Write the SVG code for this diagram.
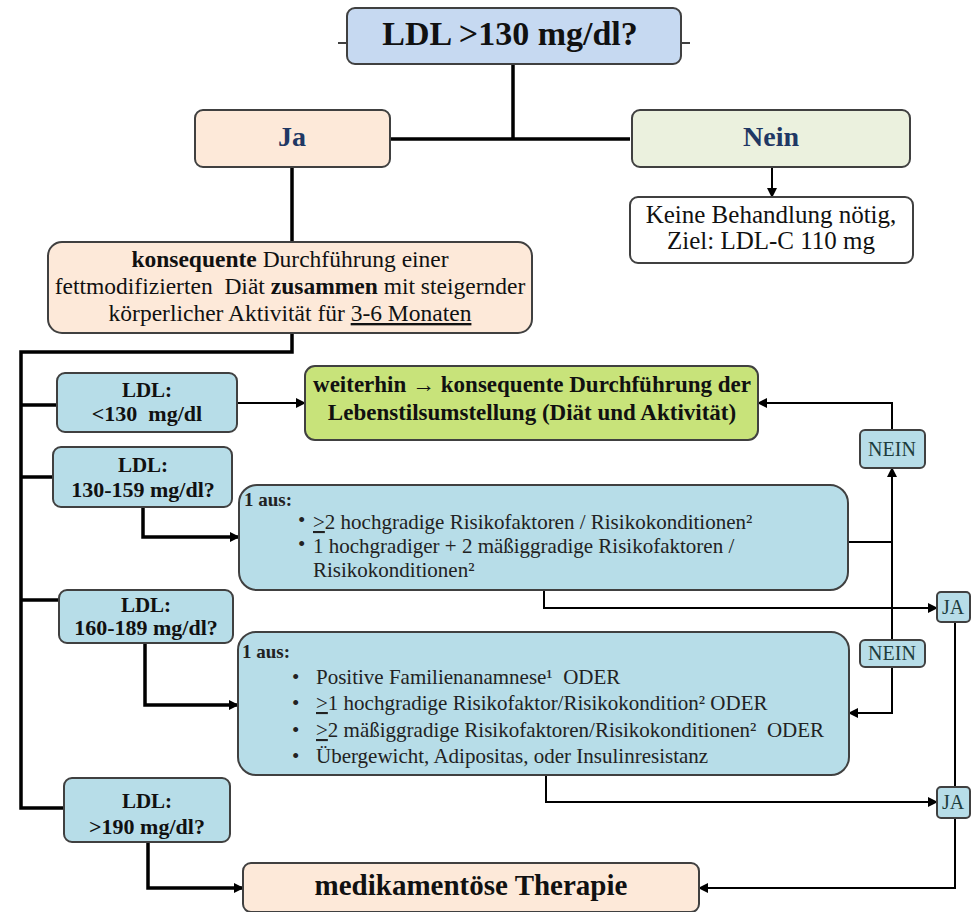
<svg xmlns="http://www.w3.org/2000/svg" width="972" height="912" viewBox="0 0 972 912">
<defs>
<marker id="ah" viewBox="0 0 10 10" refX="9" refY="5" markerWidth="11" markerHeight="10" markerUnits="userSpaceOnUse" orient="auto"><path d="M0,0 L10,5 L0,10 z" fill="#000"/></marker>
</defs>
<style>
text{font-family:"Liberation Serif","Times New Roman",serif;fill:#111}
.b{font-weight:bold}
.box{stroke:#404040;stroke-width:2}
.blue{fill:#c6d9f1}
.peach{fill:#fde9d9}
.lgreen{fill:#ebf1de}
.teal{fill:#b7dde8}
.lime{fill:#c8e37a}
.white{fill:#fff}
.thick{fill:none;stroke:#000;stroke-width:3.5}
.thin{fill:none;stroke:#000;stroke-width:2}
.ldl{font-size:21px;font-weight:bold;text-anchor:middle}
.ldl2{font-size:22px;font-weight:bold;text-anchor:middle}
.risk{font-size:21px;fill:#222}
.aus{font-size:19px;font-weight:bold;fill:#222}
.lbl{font-size:20px;text-anchor:middle;fill:#1d3c3c}
</style>
<rect width="972" height="912" fill="#fff"/>
<g id="connectors">
<line x1="338" y1="43" x2="347" y2="43" stroke="#000" stroke-width="1.5"/>
<line x1="681" y1="43" x2="690" y2="43" stroke="#000" stroke-width="1.5"/>
<path class="thick" d="M513 64 L513 139 M390 139 L630 139"/>
<path class="thin" d="M772 167 L772 197" marker-end="url(#ah)"/>
<path class="thick" d="M292 167 L292 242 M292 333 L292 352 L21 352 L21 808 L64 808 M21 405 L57 405 M21 477 L53 477 M21 600 L59 600"/>
<path class="thin" d="M237 403 L305 403" marker-end="url(#ah)"/>
<path class="thick" d="M143 507 L143 537 L239 537" marker-end="url(#ah)"/>
<path class="thick" d="M145 643 L145 705 L238 705" marker-end="url(#ah)"/>
<path class="thick" d="M148 842 L148 888 L243 888" marker-end="url(#ah)"/>
<path class="thin" d="M892 430 L892 403 L758 403" marker-end="url(#ah)"/>
<path class="thin" d="M892 640 L892 468" marker-end="url(#ah)"/>
<path class="thin" d="M848 542 L892 542"/>
<path class="thin" d="M892 667 L892 713 L849 713" marker-end="url(#ah)"/>
<path class="thin" d="M544 590 L544 608 L937 608" marker-end="url(#ah)"/>
<path class="thin" d="M546 775 L546 802 L937 802" marker-end="url(#ah)"/>
<path class="thin" d="M955 622 L955 787 M955 818 L955 888 L699 888" marker-end="url(#ah)"/>
</g>
<g id="top">
<rect class="box blue" x="347" y="8" width="334" height="56" rx="8"/>
<text class="b" x="510" y="45" font-size="34" text-anchor="middle">LDL &gt;130 mg/dl?</text>
</g>
<g id="ja">
<rect class="box peach" x="195" y="110" width="195" height="57" rx="8"/>
<text class="b" x="292" y="146" font-size="28" text-anchor="middle" style="fill:#1f3864">Ja</text>
</g>
<g id="nein">
<rect class="box lgreen" x="632" y="110" width="278" height="57" rx="8"/>
<text class="b" x="771" y="146" font-size="28" text-anchor="middle" style="fill:#1f3864">Nein</text>
</g>
<g id="keine">
<rect class="box white" x="630" y="197" width="283" height="66" rx="8"/>
<text x="771" y="223" font-size="25" text-anchor="middle">Keine Behandlung nötig,</text>
<text x="771" y="249" font-size="25" text-anchor="middle">Ziel: LDL-C 110 mg</text>
</g>
<g id="konsequent">
<rect class="box peach" x="48" y="242" width="484" height="91" rx="14"/>
<text x="290" y="267" font-size="23.5" text-anchor="middle"><tspan class="b">konsequente</tspan> Durchführung einer</text>
<text x="290" y="294" font-size="23.5" text-anchor="middle">fettmodifizierten&#160; Diät <tspan class="b">zusammen</tspan> mit steigernder</text>
<text x="290" y="321" font-size="23.5" text-anchor="middle">körperlicher Aktivität für <tspan text-decoration="underline">3-6 Monaten</tspan></text>
</g>
<g id="ldl1">
<rect class="box teal" x="57" y="373" width="180" height="59" rx="8"/>
<text class="ldl" x="147" y="397">LDL:</text>
<text class="ldl2" x="147" y="421">&lt;130&#160; mg/dl</text>
</g>
<g id="lifestyle">
<rect class="box lime" x="305" y="366" width="453" height="74" rx="10"/>
<text class="b" x="532" y="392" font-size="23" text-anchor="middle">weiterhin → konsequente Durchführung der</text>
<text class="b" x="532" y="420" font-size="23" text-anchor="middle">Lebenstilsumstellung (Diät und Aktivität)</text>
</g>
<g id="ldl2">
<rect class="box teal" x="53" y="447" width="179" height="60" rx="8"/>
<text class="ldl" x="143" y="472">LDL:</text>
<text class="ldl2" x="143" y="497">130-159 mg/dl?</text>
</g>
<g id="risk1">
<rect class="box teal" x="239" y="485" width="609" height="105" rx="18"/>
<text class="aus" x="244" y="506">1 aus:</text>
<text class="risk" x="298" y="527" font-size="15">•</text>
<text class="risk" x="313" y="529"><tspan text-decoration="underline">&gt;</tspan>2 hochgradige Risikofaktoren / Risikokonditionen²</text>
<text class="risk" x="298" y="551" font-size="15">•</text>
<text class="risk" x="313" y="553">1 hochgradiger + 2 mäßiggradige Risikofaktoren /</text>
<text class="risk" x="313" y="577">Risikokonditionen²</text>
</g>
<g id="nein1">
<rect class="box teal" x="860" y="430" width="65" height="38" rx="5"/>
<text class="lbl" x="892" y="456">NEIN</text>
</g>
<g id="ja1">
<rect class="box teal" x="937" y="592" width="33" height="30" rx="4"/>
<text class="lbl" x="953" y="614">JA</text>
</g>
<g id="ldl3">
<rect class="box teal" x="59" y="590" width="174" height="53" rx="8"/>
<text class="ldl" x="146" y="612">LDL:</text>
<text class="ldl2" x="146" y="635">160-189 mg/dl?</text>
</g>
<g id="risk2">
<rect class="box teal" x="238" y="632" width="611" height="143" rx="18"/>
<text class="aus" x="242" y="658">1 aus:</text>
<text class="risk" x="292" y="684">•</text>
<text class="risk" x="316" y="684">Positive Familienanamnese¹&#160; ODER</text>
<text class="risk" x="292" y="710">•</text>
<text class="risk" x="316" y="710"><tspan text-decoration="underline">&gt;</tspan>1 hochgradige Risikofaktor/Risikokondition² ODER</text>
<text class="risk" x="292" y="737">•</text>
<text class="risk" x="316" y="737"><tspan text-decoration="underline">&gt;</tspan>2 mäßiggradige Risikofaktoren/Risikokonditionen²&#160; ODER</text>
<text class="risk" x="292" y="763">•</text>
<text class="risk" x="316" y="763">Übergewicht, Adipositas, oder Insulinresistanz</text>
</g>
<g id="nein2">
<rect class="box teal" x="860" y="640" width="65" height="27" rx="5"/>
<text class="lbl" x="892" y="660">NEIN</text>
</g>
<g id="ja2">
<rect class="box teal" x="937" y="787" width="33" height="31" rx="4"/>
<text class="lbl" x="953" y="809">JA</text>
</g>
<g id="ldl4">
<rect class="box teal" x="64" y="778" width="166" height="64" rx="8"/>
<text class="ldl" x="147" y="808">LDL:</text>
<text class="ldl2" x="147" y="834">&gt;190 mg/dl?</text>
</g>
<g id="medik">
<rect class="box peach" x="243" y="863" width="456" height="49" rx="8"/>
<text class="b" x="471" y="895" font-size="29" text-anchor="middle">medikamentöse Therapie</text>
</g>
</svg>
